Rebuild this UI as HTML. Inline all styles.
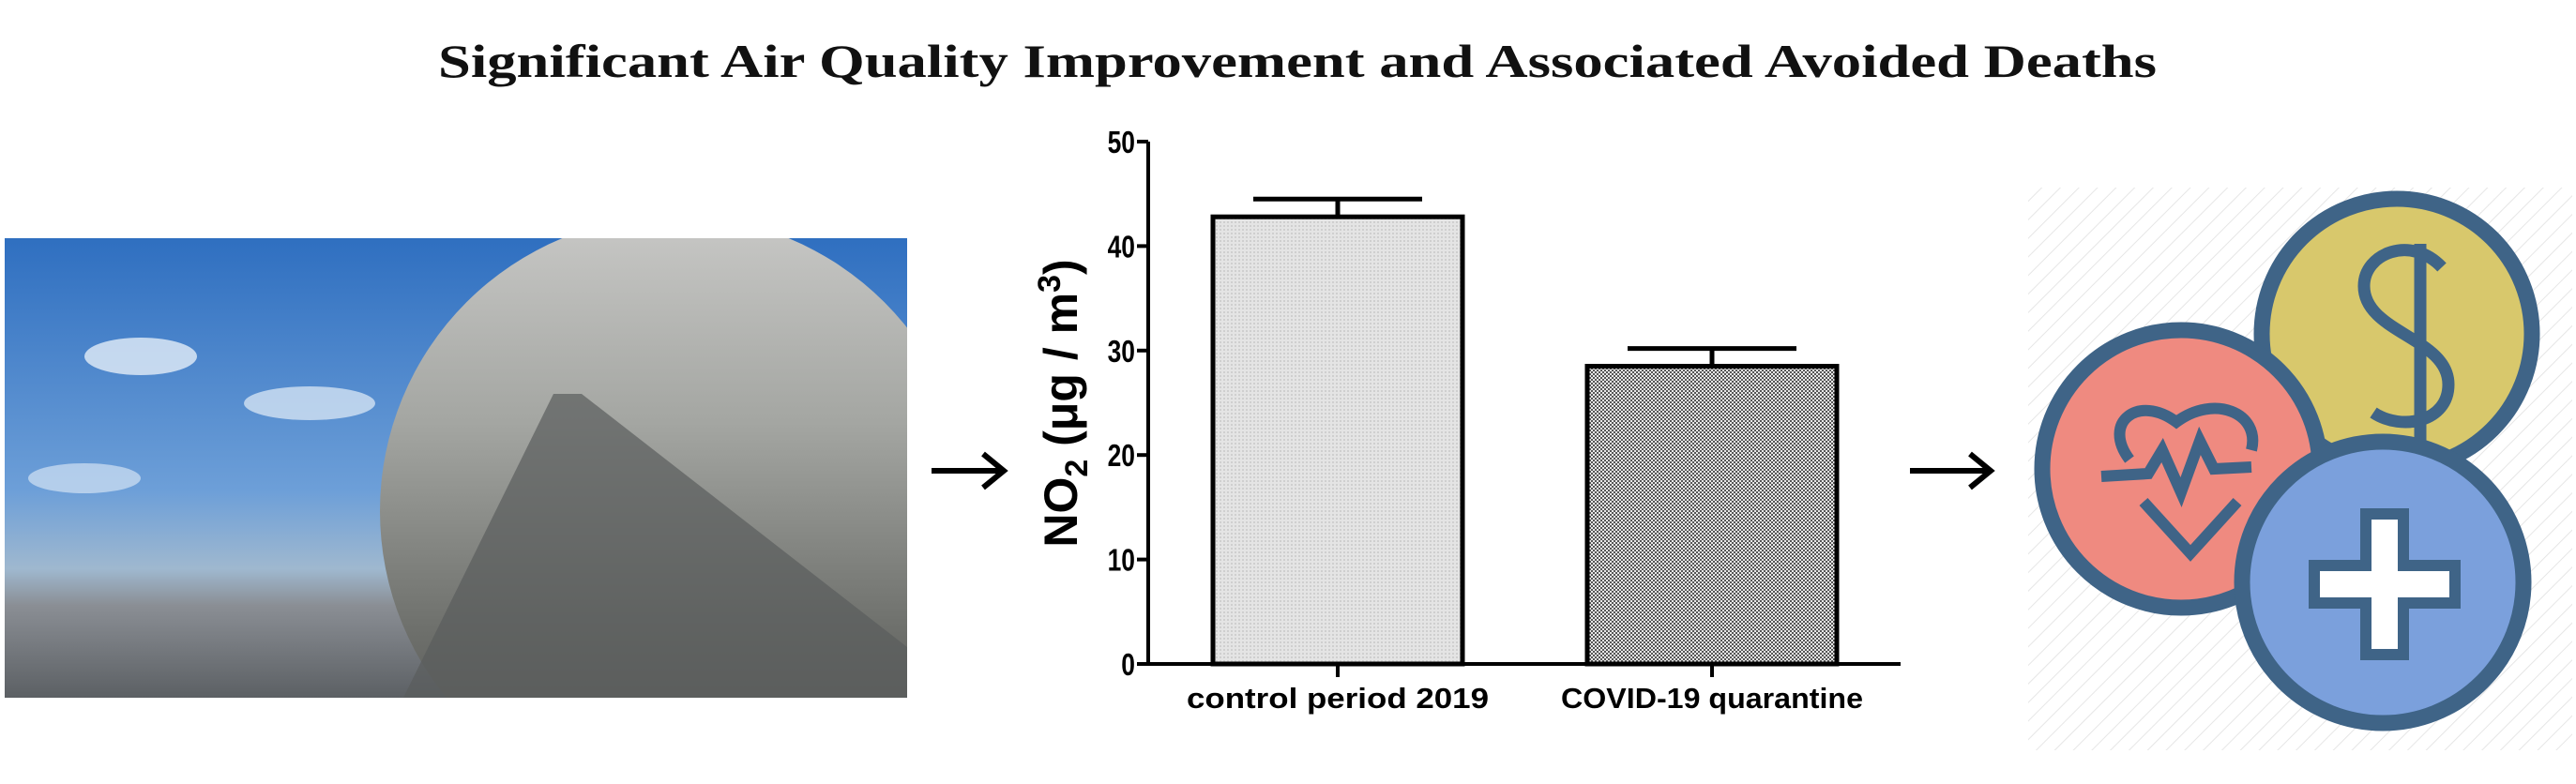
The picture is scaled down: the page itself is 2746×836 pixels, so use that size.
<!DOCTYPE html>
<html><head><meta charset="utf-8"><style>
html,body{margin:0;padding:0;background:#fff;}
body{width:2746px;height:836px;position:relative;overflow:hidden;}
</style></head><body>
<svg width="2746" height="836" style="position:absolute;left:0;top:0">
<defs>
<linearGradient id="sky" x1="0" y1="0" x2="0" y2="1">
<stop offset="0" stop-color="#2f6fc0"/><stop offset="0.55" stop-color="#6d9fd8"/><stop offset="0.72" stop-color="#9fb8cf"/><stop offset="0.8" stop-color="#8a8e94"/><stop offset="1" stop-color="#5c6064"/></linearGradient>
<linearGradient id="smog" x1="0" y1="0" x2="0" y2="1">
<stop offset="0" stop-color="#c8c8c6"/><stop offset="0.35" stop-color="#a4a6a2"/><stop offset="0.7" stop-color="#6e706c"/><stop offset="1" stop-color="#4a4a48"/></linearGradient>
<clipPath id="photoClip"><rect x="5" y="254" width="962" height="490"/></clipPath>
<pattern id="dots1" width="4" height="4" patternUnits="userSpaceOnUse"><rect width="4" height="4" fill="#e4e4e4"/><rect width="2" height="2" fill="#cfcfcf"/></pattern>
<pattern id="dots2" width="4" height="4" patternUnits="userSpaceOnUse"><rect width="4" height="4" fill="#e8e8e8"/><rect width="2" height="2" fill="#555"/><rect x="2" y="2" width="2" height="2" fill="#555"/></pattern>
<pattern id="hatch" width="14" height="14" patternUnits="userSpaceOnUse" patternTransform="rotate(45)"><line x1="0" y1="0" x2="0" y2="14" stroke="#e6e6e6" stroke-width="2"/></pattern>
</defs>
<text x="1383" y="82" text-anchor="middle" font-family="Liberation Serif, serif" font-weight="bold" font-size="50" textLength="1832" lengthAdjust="spacingAndGlyphs" fill="#111">Significant Air Quality Improvement and Associated Avoided Deaths</text>
<g clip-path="url(#photoClip)">
<rect x="5" y="254" width="962" height="490" fill="url(#sky)"/>
<ellipse cx="150" cy="380" rx="60" ry="20" fill="#e4eef8" opacity="0.8"/>
<ellipse cx="330" cy="430" rx="70" ry="18" fill="#e4eef8" opacity="0.7"/>
<ellipse cx="90" cy="510" rx="60" ry="16" fill="#e4eef8" opacity="0.6"/>
<circle cx="720" cy="545" r="315" fill="url(#smog)"/>
<polygon points="430,744 590,420 620,420 967,690 967,744" fill="#5a5c5c" opacity="0.7"/>
</g>
<g><line x1="993" y1="502" x2="1068" y2="502" stroke="#000" stroke-width="6"/><polyline points="1048,484 1070,502 1048,520" fill="none" stroke="#000" stroke-width="6"/></g>
<g><line x1="2036" y1="502" x2="2120" y2="502" stroke="#000" stroke-width="6"/><polyline points="2100,484 2122,502 2100,520" fill="none" stroke="#000" stroke-width="6"/></g>
<g id="chart"></g>
<g>
<rect x="2162" y="200" width="580" height="600" fill="url(#hatch)"/>
<circle cx="2555" cy="356" r="144" fill="#d8c86c" stroke="#3f6487" stroke-width="17"/>
<path d="M2580 260 L2580 470 M2603 285 C2570 250 2520 270 2520 305 C2520 355 2610 360 2610 410 C2610 450 2560 460 2530 440" fill="none" stroke="#3f6487" stroke-width="13"/>
<circle cx="2325" cy="500" r="148" fill="#ef8a80" stroke="#3f6487" stroke-width="17"/>
<path d="M2240 508 L2290 505 L2305 480 L2325 525 L2345 470 L2360 500 L2400 498" fill="none" stroke="#3f6487" stroke-width="12"/>
<path d="M2270 490 C2240 450 2280 420 2320 450 C2360 420 2410 440 2400 480 M2285 535 L2335 590 L2385 535" fill="none" stroke="#3f6487" stroke-width="12"/>
<circle cx="2540" cy="621" r="150" fill="#7ba0dc" stroke="#3f6487" stroke-width="17"/>
<path d="M2522 548 h40 v55 h55 v40 h-55 v55 h-40 v-55 h-55 v-40 h55 z" fill="#fff" stroke="#3f6487" stroke-width="12"/>
</g>
</svg>
<script>
const categories = ["control period 2019", "COVID-19 quarantine"];
const means = [42.8, 28.5];
const errors = [1.7, 1.7];
const yTicks = [0, 10, 20, 30, 40, 50];
const fills = ["url(#dots1)", "url(#dots2)"];
const NS = "http://www.w3.org/2000/svg";
const g = document.getElementById("chart");
const x0 = 1224, x1 = 2026, yBase = 708, yTop = 151, yMax = 50;
const ys = v => yBase - (v / yMax) * (yBase - yTop);
const slotW = (x1 - x0) / categories.length * 0.995;
const xc = i => x0 + 202 + i * slotW;
function mk(tag, attrs){ const e = document.createElementNS(NS, tag); for (const k in attrs) e.setAttribute(k, attrs[k]); g.appendChild(e); return e; }
let e = mk("line", {x1:x0, y1:yTop, x2:x0, y2:yBase, stroke:"#000", "stroke-width":4});


e = mk("line", {x1:x0-2, y1:yBase, x2:x1, y2:yBase, stroke:"#000", "stroke-width":4});


yTicks.forEach(t => {
  const y = ys(t);
  let tk = mk("line", {x1:x0-12, y1:y, x2:x0, y2:y, stroke:"#000", "stroke-width":4});
  
  
  let tl = mk("text", {x:x0-14, y:y+12, "text-anchor":"end", "font-family":"Liberation Sans, sans-serif", "font-weight":"bold", "font-size":33, transform:`translate(${x0-14},0) scale(0.8,1) translate(${-(x0-14)},0)`});
  tl.textContent = t;
  
  
});
categories.forEach((c, i) => {
  const cx = xc(i), w = 266, top = ys(means[i]), etop = ys(means[i] + errors[i]);
  let b = mk("rect", {x:cx-w/2, y:top, width:w, height:yBase-top, fill:fills[i], stroke:"#000", "stroke-width":5});
  
  
  let eb = mk("path", {d:`M${cx} ${top} V${etop} M${cx-90} ${etop} H${cx+90}`, stroke:"#000", "stroke-width":5, fill:"none"});
  
  
  let tk = mk("line", {x1:cx, y1:yBase, x2:cx, y2:yBase+14, stroke:"#000", "stroke-width":4});
  
  
  let lb = mk("text", {x:cx, y:yBase+47, "text-anchor":"middle", "font-family":"Liberation Sans, sans-serif", "font-weight":"bold", "font-size":31, textLength:322, lengthAdjust:"spacingAndGlyphs"});
  lb.textContent = c;
  
  
});
const yt = document.createElementNS(NS, "text");
yt.setAttribute("transform", "translate(1148,430) rotate(-90)");
yt.setAttribute("text-anchor", "middle");
yt.setAttribute("font-family", "Liberation Sans, sans-serif");
yt.setAttribute("font-weight", "bold");
yt.setAttribute("font-size", "50");
yt.innerHTML = 'NO<tspan font-size="34" dy="11">2</tspan><tspan dy="-11"> (μg / m</tspan><tspan font-size="34" dy="-18">3</tspan><tspan dy="18">)</tspan>';


g.appendChild(yt);
</script>
</body></html>
